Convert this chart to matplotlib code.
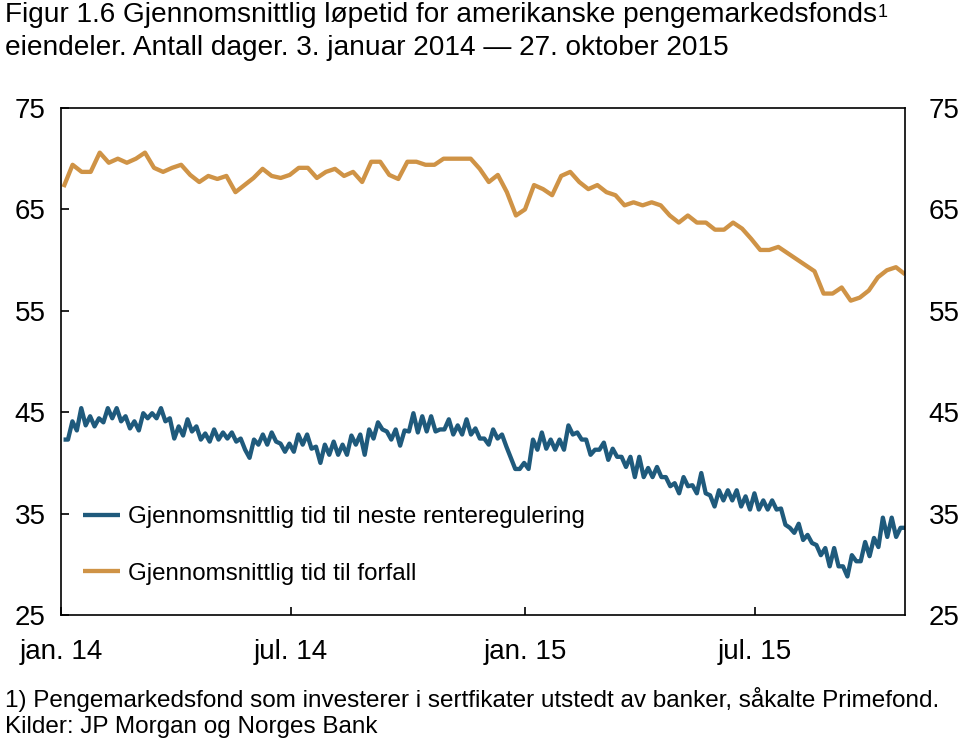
import matplotlib
matplotlib.use("Agg")
import matplotlib.pyplot as plt
import pandas as pd
import numpy as np

plt.rcParams['font.family'] = ['Liberation Sans', 'DejaVu Sans']

# ---- data -------------------------------------------------------------
title_line1 = "Figur 1.6 Gjennomsnittlig løpetid for amerikanske pengemarkedsfonds"
title_sup = "1"
title_line2 = "eiendeler. Antall dager. 3. januar 2014 — 27. oktober 2015"
footnote = "1) Pengemarkedsfond som investerer i sertfikater utstedt av banker, såkalte Primefond."
source = "Kilder: JP Morgan og Norges Bank"

series_names = ["Gjennomsnittlig tid til neste renteregulering",
                "Gjennomsnittlig tid til forfall"]

start_date = "2014-01-03"
end_date = "2015-10-27"

# Weighted average maturity to reset (days), ~twice weekly
reset_days = [
    42.3, 42.3, 44.1, 43.2, 45.4, 43.7, 44.6, 43.6, 44.4, 44.0,
    45.4, 44.4, 45.4, 44.1, 44.6, 43.4, 44.1, 43.2, 44.9, 44.4,
    44.9, 44.4, 45.4, 44.1, 44.4, 42.4, 43.6, 42.7, 44.3, 43.1,
    43.6, 42.3, 42.9, 42.1, 43.3, 42.3, 43.0, 42.4, 43.0, 42.1,
    42.4, 41.3, 40.5, 42.3, 41.8, 42.8, 41.8, 43.0, 42.1, 41.9,
    41.1, 41.9, 41.1, 42.8, 41.8, 42.8, 41.4, 41.6, 40.0, 41.8,
    40.8, 42.1, 40.8, 41.8, 40.8, 42.7, 41.8, 42.8, 40.8, 43.3,
    42.4, 44.0, 43.3, 43.1, 42.3, 43.3, 41.7, 43.2, 43.1, 44.9,
    43.0, 44.6, 43.1, 44.6, 43.1, 43.3, 43.3, 44.3, 42.8, 43.7,
    42.8, 44.3, 42.8, 43.4, 42.4, 42.4, 41.8, 43.3, 42.4, 42.8,
    41.6, 40.5, 39.4, 39.4, 40.0, 39.4, 42.3, 41.3, 43.0, 41.4,
    42.3, 41.3, 42.3, 41.3, 43.7, 42.8, 43.0, 42.3, 42.3, 40.8,
    41.3, 41.3, 42.0, 40.3, 41.4, 40.6, 40.6, 39.6, 40.6, 38.6,
    40.6, 38.6, 39.5, 38.6, 39.6, 38.6, 38.6, 37.7, 38.0, 37.0,
    38.6, 37.7, 37.8, 37.0, 39.0, 37.0, 36.8, 35.7, 37.3, 36.3,
    37.3, 36.3, 37.3, 35.7, 36.7, 35.4, 37.0, 35.4, 36.3, 35.4,
    36.3, 35.4, 35.5, 33.9, 33.6, 33.1, 34.0, 32.4, 32.9, 32.1,
    31.9, 30.9, 31.6, 29.8, 31.6, 29.8, 29.8, 28.8, 30.9, 30.3,
    30.3, 32.2, 30.8, 32.6, 31.7, 34.6, 32.7, 34.6, 32.7, 33.6,
    33.6,
]

# Weighted average maturity (days), weekly
maturity_days = [
    67.2, 69.4, 68.7, 68.7, 70.6, 69.6, 70.0, 69.6, 70.0, 70.6,
    69.1, 68.7, 69.1, 69.4, 68.4, 67.7, 68.3, 68.0, 68.3, 66.7,
    67.4, 68.1, 69.0, 68.3, 68.1, 68.4, 69.1, 69.1, 68.1, 68.7,
    69.0, 68.3, 68.7, 67.7, 69.7, 69.7, 68.4, 68.0, 69.7, 69.7,
    69.4, 69.4, 70.0, 70.0, 70.0, 70.0, 69.0, 67.7, 68.4, 66.7,
    64.4, 65.0, 67.4, 67.0, 66.4, 68.3, 68.7, 67.7, 67.0, 67.4,
    66.7, 66.4, 65.4, 65.7, 65.4, 65.7, 65.4, 64.4, 63.7, 64.4,
    63.7, 63.7, 63.0, 63.0, 63.7, 63.1, 62.1, 61.0, 61.0, 61.3,
    60.7, 60.1, 59.5, 58.9, 56.7, 56.7, 57.3, 56.0, 56.3, 57.0,
    58.3, 59.0, 59.3, 58.6,
]

x_tick_dates = ["2014-01-01", "2014-07-01", "2015-01-01", "2015-07-01"]
x_tick_labels = ["jan. 14", "jul. 14", "jan. 15", "jul. 15"]
y_ticks = [25, 35, 45, 55, 65, 75]

blue = "#1f5a7c"
orange = "#cf9346"

# ---- figure -----------------------------------------------------------
fig = plt.figure(figsize=(9.6, 7.45), dpi=100)
ax = fig.add_axes([61/960, 1-615/745, (905-61)/960, (615-108)/745])

reset_dates = pd.date_range(start_date, end_date, periods=len(reset_days))
mat_dates = pd.date_range(start_date, end_date, periods=len(maturity_days))

ax.plot(reset_dates, reset_days, color=blue, lw=3.1, label=series_names[0],
        solid_joinstyle='round', solid_capstyle='butt')
ax.plot(mat_dates, maturity_days, color=orange, lw=3.1, label=series_names[1],
        solid_joinstyle='round', solid_capstyle='butt')

ax.set_xlim(pd.Timestamp("2014-01-01"), pd.Timestamp(end_date))
ax.set_ylim(25, 75)
ax.set_yticks(y_ticks)
ax.set_xticks(pd.to_datetime(x_tick_dates))
ax.set_xticklabels(x_tick_labels)

for s in ax.spines.values():
    s.set_linewidth(1.2)
    s.set_color("black")

ax.tick_params(axis='y', which='major', direction='in', length=6, width=1.2,
               left=True, right=True, labelleft=True, labelright=False,
               labelsize=20, pad=11)
ax.tick_params(axis='x', which='major', direction='in', length=6, width=1.2,
               labelsize=20, pad=17.5)

# right-hand labels with their own padding
ax2 = ax.twinx()
ax2.set_ylim(ax.get_ylim())
ax2.set_yticks(y_ticks)
ax2.tick_params(axis='y', direction='in', length=0, labelsize=20, pad=17)
for s in ax2.spines.values():
    s.set_visible(False)

leg = ax.legend(loc='upper left', bbox_to_anchor=(83/960, 1-506/745),
                bbox_transform=fig.transFigure, frameon=False,
                fontsize=17.4, handlelength=1.53, handletextpad=0.33,
                labelspacing=1.43, borderpad=0, borderaxespad=0)

t1 = fig.text(5/960, 1-15/745, title_line1, fontsize=20.2, va='center', ha='left')
fig.text(5/960, 1-48/745, title_line2, fontsize=20.2, va='center', ha='left')
r = fig.canvas.get_renderer()
bb = t1.get_window_extent(renderer=r)
fig.text((bb.x1 + 1)/fig.bbox.width, (bb.y1 - 2)/fig.bbox.height, title_sup,
         fontsize=13, va='top', ha='left')

fig.text(5/960, 1-700/745, footnote, fontsize=17.5, va='center', ha='left')
fig.text(5/960, 1-727/745, source, fontsize=17.5, va='center', ha='left')

fig.savefig("out.png", dpi=100)
